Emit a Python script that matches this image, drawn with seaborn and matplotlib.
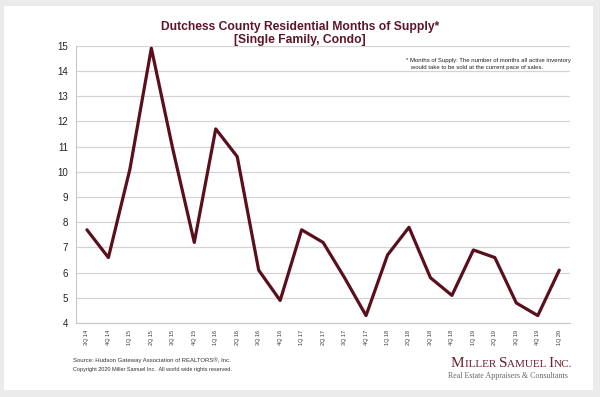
import matplotlib
matplotlib.use("Agg")
import matplotlib.pyplot as plt
import seaborn as sns
import pandas as pd
from matplotlib.patches import Rectangle

# =========================
# DATA
# =========================

quarters = ["3Q 14", "4Q 14", "1Q 15", "2Q 15", "3Q 15", "4Q 15", "1Q 16", "2Q 16",
            "3Q 16", "4Q 16", "1Q 17", "2Q 17", "3Q 17", "4Q 17", "1Q 18", "2Q 18",
            "3Q 18", "4Q 18", "1Q 19", "2Q 19", "3Q 19", "4Q 19", "1Q 20"]
months_supply = [7.7, 6.6, 10.1, 14.9, 10.9, 7.2, 11.7, 10.6,
                 6.1, 4.9, 7.7, 7.2, 5.8, 4.3, 6.7, 7.8,
                 5.8, 5.1, 6.9, 6.6, 4.8, 4.3, 6.1]
y_ticks = list(range(4, 16))

df = pd.DataFrame({"quarter": quarters, "mos": months_supply})

line_color = "#5a0f1e"
title_color = "#5c1627"
serif = ["Liberation Serif", "DejaVu Serif"]

sns.set_style("white")
plt.rcParams["font.family"] = ["Liberation Sans", "DejaVu Sans"]

fig = plt.figure(figsize=(6, 3.97), dpi=100)
fig.patch.set_facecolor("#ebebeb")
# white card behind everything
fig.add_artist(Rectangle((0.006, 0.018), 0.982, 0.968, transform=fig.transFigure,
                         facecolor="white", edgecolor="none", zorder=-10))

ax = fig.add_axes([0.127, 0.186, 0.823, 0.699])
ax.set_zorder(1)
ax.set_facecolor("none")

sns.lineplot(data=df, x="quarter", y="mos", ax=ax, color=line_color,
             linewidth=2.3, sort=False)

ax.set_ylim(4, 15)
ax.set_xlim(-0.5, len(quarters) - 0.5)
ax.set_yticks(y_ticks)
ax.set_yticklabels([str(t) for t in y_ticks], fontsize=7, color="#222222")
ax.set_xticks(range(len(quarters)))
ax.set_xticklabels(quarters, rotation=90, fontsize=4, color="#333333")
ax.set_xticks([i - 0.5 for i in range(len(quarters) + 1)], minor=True)
ax.tick_params(axis="x", which="major", length=0, pad=5)
ax.tick_params(axis="x", which="minor", length=3, color="#bbbbbb", width=0.6)
ax.tick_params(axis="y", length=0, pad=6)
ax.set_xlabel("")
ax.set_ylabel("")

ax.grid(axis="y", color="#d4d4d4", linewidth=0.9)
ax.set_axisbelow(True)
for s in ["top", "right"]:
    ax.spines[s].set_visible(False)
ax.spines["left"].set_color("#c8c8c8")
ax.spines["bottom"].set_color("#c8c8c8")
ax.spines["left"].set_linewidth(0.8)
ax.spines["bottom"].set_linewidth(0.8)

# titles and notes
fig.text(0.5, 0.931, "Dutchess County Residential Months of Supply*", ha="center",
         va="center", fontsize=8.7, fontweight="bold", color=title_color)
fig.text(0.5, 0.900, "[Single Family, Condo]", ha="center", va="center",
         fontsize=8.7, fontweight="bold", color=title_color)

fig.text(0.677, 0.839, "* Months of Supply: The number of months all active inventory\n"
         "   would take to be sold at the current pace of sales.",
         ha="left", va="center", fontsize=4.3, color="#222222", linespacing=1.6)

fig.text(0.122, 0.092, "Source: Hudson Gateway Association of REALTORS\u00ae, Inc.",
         ha="left", va="center", fontsize=4.3, color="#333333")
fig.text(0.122, 0.07, "Copyright 2020 Miller Samuel Inc.  All world wide rights reserved.",
         ha="left", va="center", fontsize=4.0, color="#333333")

# logo in small caps, built piece by piece
renderer = fig.canvas.get_renderer()
logo_parts = [("M", 11), ("ILLER ", 8), ("S", 11), ("AMUEL ", 8),
              ("I", 11), ("NC.", 8)]
x_px = 451
for txt, size in logo_parts:
    t = fig.text(x_px / 600, 1 - 367 / 397, txt, ha="left", va="baseline",
                 fontsize=size, color="#6b1f2c", family=serif)
    x_px += t.get_window_extent(renderer).width
fig.text(0.947, 1 - 376.5 / 397, "Real Estate Appraisers & Consultants", ha="right",
         va="center", fontsize=5.7, color="#666666", family=serif)

fig.savefig("out.png", dpi=100, facecolor=fig.get_facecolor())
